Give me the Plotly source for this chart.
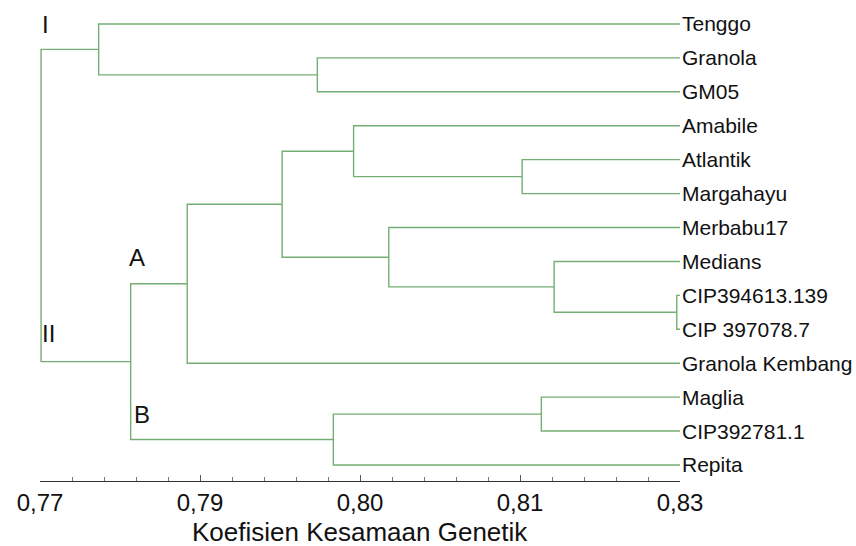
import plotly.graph_objects as go

# ---- data ----
leaf_names = ["Tenggo", "Granola", "GM05", "Amabile", "Atlantik", "Margahayu",
              "Merbabu17", "Medians", "CIP394613.139", "CIP 397078.7",
              "Granola Kembang", "Maglia", "CIP392781.1", "Repita"]
# merges (scipy-like): node ids 0..13 are leaves, new nodes numbered from 14
merge_left = [8, 4, 11, 1, 7, 6, 3, 20, 21, 16, 22, 0, 25]
merge_right = [9, 5, 12, 2, 14, 18, 15, 19, 10, 13, 23, 17, 24]
merge_height = [0.8297, 0.8152, 0.8170, 0.7960, 0.8182, 0.8027, 0.7994,
                0.7927, 0.7838, 0.7975, 0.7785, 0.7755, 0.7701]

tick_vals = [0.77, 0.785, 0.80, 0.815, 0.83]
tick_text = ["0,77", "0,79", "0,80", "0,81", "0,83"]
axis_title = "Koefisien Kesamaan Genetik"
group_labels = ["I", "II", "A", "B"]
group_x = [0.77056, 0.77084, 0.77909, 0.77956]
group_y = [0.03, 9.11, 6.87, 11.5]

X_MIN, X_MAX = 0.77, 0.83
n = len(leaf_names)

# ---- layout of the dendrogram ----
pos_x = {i: X_MAX for i in range(n)}
pos_y = {i: float(i) for i in range(n)}
xs, ys = [], []
for k, (a, b, h) in enumerate(zip(merge_left, merge_right, merge_height)):
    node = n + k
    pos_x[node] = h
    pos_y[node] = (pos_y[a] + pos_y[b]) / 2
    xs += [pos_x[a], h, h, pos_x[b], None]
    ys += [pos_y[a], pos_y[a], pos_y[b], pos_y[b], None]

LINE = "#74ae74"
FONT = "Liberation Sans, Arial, sans-serif"

fig = go.Figure()
fig.add_trace(go.Scatter(x=xs, y=ys, mode="lines",
                         line=dict(color=LINE, width=1.4),
                         hoverinfo="skip", showlegend=False))

annotations = []
for i, name in enumerate(leaf_names):
    annotations.append(dict(x=X_MAX, y=i, xref="x", yref="y", text=name,
                            showarrow=False, xanchor="left", yanchor="middle",
                            xshift=0, font=dict(family=FONT, size=21, color="#111")))
for t, gx, gy in zip(group_labels, group_x, group_y):
    annotations.append(dict(x=gx, y=gy, xref="x", yref="y", text=t,
                            showarrow=False, xanchor="center", yanchor="middle",
                            font=dict(family=FONT, size=24, color="#111")))
annotations.append(dict(x=0.5, y=0, xref="paper", yref="paper", text=axis_title,
                        showarrow=False, xanchor="center", yanchor="middle",
                        yshift=-51, borderpad=0,
                        font=dict(family=FONT, size=26, color="#111")))

fig.update_layout(
    width=856, height=546,
    margin=dict(l=40, r=176, t=7, b=65),
    paper_bgcolor="white", plot_bgcolor="white",
    annotations=annotations,
    xaxis=dict(range=[X_MIN, X_MAX], tickvals=tick_vals, ticktext=tick_text,
               showgrid=False, zeroline=False, showline=True,
               linecolor="#333", linewidth=1,
               ticks="inside", ticklen=6, tickcolor="#555",
               tickfont=dict(family=FONT, size=24, color="#111"),
               minor=dict(tick0=0.77, dtick=0.003, ticks="inside", ticklen=4,
                          tickcolor="#777", showgrid=False)),
    yaxis=dict(range=[n - 1 + 0.472, -0.5], visible=False, showgrid=False,
               zeroline=False),
)

fig.write_html("out.html")
